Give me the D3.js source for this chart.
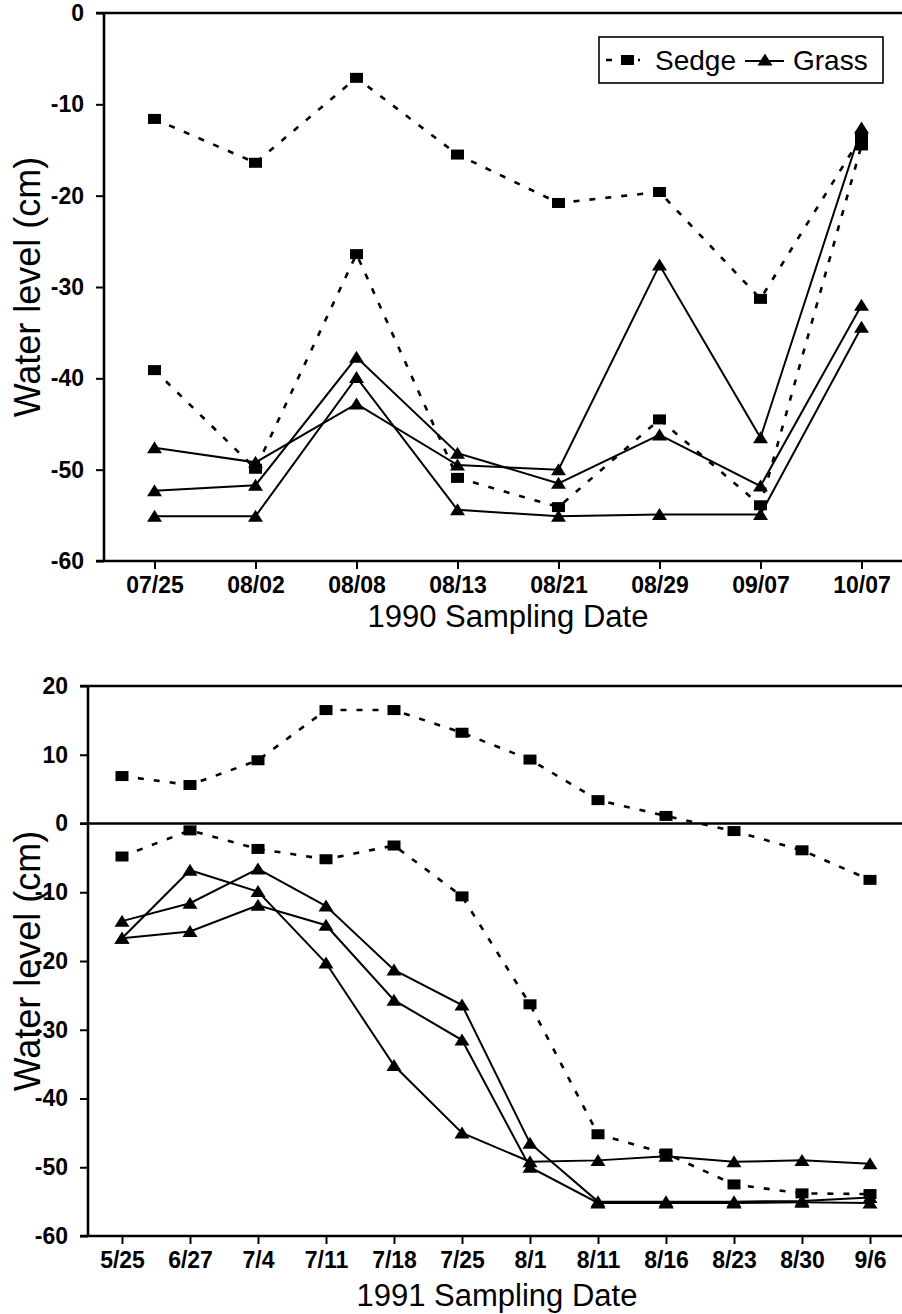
<!DOCTYPE html>
<html>
<head>
<meta charset="utf-8">
<script src="https://cdn.jsdelivr.net/npm/d3@7/dist/d3.min.js"></script>
<style>
	body { margin: 0; background: #fff; }
	svg { display: block; font-family: "Liberation Sans", Arial, sans-serif; }
	.tick text { font-size: 23px; font-weight: bold; fill: #000; }
	.axistitle { font-size: 31px; fill: #000; }
	.ytitle { font-size: 36px; fill: #000; }
	.sedge { fill: none; stroke: #000; stroke-width: 2.6; stroke-dasharray: 6,10; }
	.grass { fill: none; stroke: #000; stroke-width: 2; }
	.frame { stroke: #000; stroke-width: 2.6; }
</style>
</head>
<body>
<svg id="chart" width="902" height="1314"></svg>
<script>
// 1990 sampling
var dates90 = ["07/25", "08/02", "08/08", "08/13", "08/21", "08/29", "09/07", "10/07"];
var sedge90a = [-11.6, -16.4, -7.1, -15.5, -20.8, -19.6, -31.3, -13.5];
var sedge90b = [-39.1, -49.9, -26.4, -50.9, -54.1, -44.5, -53.9, -14.5];
var grass90a = [-47.6, -49.2, -42.8, -49.5, -50.0, -27.6, -46.5, -12.6];
var grass90b = [-52.3, -51.7, -37.7, -48.2, -51.5, -46.2, -51.8, -32.0];
var grass90c = [-55.1, -55.1, -39.9, -54.4, -55.1, -54.9, -54.9, -34.4];
var yTicks90 = [0, -10, -20, -30, -40, -50, -60];

// 1991 sampling
var dates91 = ["5/25", "6/27", "7/4", "7/11", "7/18", "7/25", "8/1", "8/11", "8/16", "8/23", "8/30", "9/6"];
var sedge91a = [6.9, 5.6, 9.2, 16.5, 16.5, 13.2, 9.3, 3.4, 1.1, -1.1, -3.9, -8.2];
var sedge91b = [-4.8, -1.0, -3.7, -5.2, -3.2, -10.6, -26.3, -45.2, -48.0, -52.5, -53.8, -53.9];
var grass91a = [-14.2, -11.6, -6.6, -12.0, -21.3, -26.4, -46.5, -55.0, -55.0, -55.0, -54.9, -54.4];
var grass91b = [-16.7, -6.8, -9.9, -20.3, -35.2, -45.0, -49.2, -49.0, -48.4, -49.2, -49.0, -49.5];
var grass91c = [-16.7, -15.7, -11.9, -14.8, -25.7, -31.5, -50.0, -55.2, -55.2, -55.2, -55.1, -55.2];
var yTicks91 = [20, 10, 0, -10, -20, -30, -40, -50, -60];

var svg = d3.select("#chart");

// triangle marker, a bit wider than tall like the original
var triPath = "M0,-6.5L7.5,5.5L-7.5,5.5Z";

function drawPanel(opt) {
	var g = svg.append("g");

	var x = d3.scalePoint()
		.domain(opt.dates)
		.range([opt.left, opt.right])
		.padding(0.5);

	var y = d3.scaleLinear()
		.domain([opt.ymin, opt.ymax])
		.range([opt.bottom, opt.top]);

	// y axis (plain hyphen for negatives, like the original)
	var yAxis = d3.axisLeft(y)
		.tickValues(opt.yTicks)
		.tickFormat(function(d) { return String(d); })
		.tickSize(8)
		.tickSizeOuter(0)
		.tickPadding(12);
	g.append("g")
		.attr("class", "y axis")
		.attr("transform", "translate(" + opt.left + ",0)")
		.call(yAxis);

	// x axis
	var xAxis = d3.axisBottom(x)
		.tickSize(8)
		.tickSizeOuter(0)
		.tickPadding(8);
	g.append("g")
		.attr("class", "x axis")
		.attr("transform", "translate(0," + opt.bottom + ")")
		.call(xAxis);

	g.selectAll(".axis .domain").remove();
	g.selectAll(".axis line").attr("stroke", "#000").attr("stroke-width", 2);

	// frame lines
	g.append("line").attr("class", "frame")
		.attr("x1", opt.left).attr("x2", opt.left)
		.attr("y1", y(opt.ymax)).attr("y2", y(opt.ymin));
	opt.hLines.forEach(function(v) {
		g.append("line").attr("class", "frame")
			.attr("x1", opt.left - 8).attr("x2", 902)
			.attr("y1", y(v)).attr("y2", y(v));
	});

	// titles
	g.append("text")
		.attr("class", "axistitle")
		.attr("x", opt.xTitleX)
		.attr("y", opt.xTitleY)
		.attr("text-anchor", "middle")
		.text(opt.xTitle);

	g.append("text")
		.attr("class", "ytitle")
		.attr("transform", "rotate(-90)")
		.attr("x", 0 - (opt.top + opt.bottom) / 2)
		.attr("y", 40)
		.attr("text-anchor", "middle")
		.text("Water level (cm)");

	var line = d3.line()
		.x(function(d, i) { return x(opt.dates[i]); })
		.y(function(d) { return y(d); });

	// sedge dashed lines, grass solid lines
	opt.sedge.forEach(function(s) {
		g.append("path")
			.datum(s)
			.attr("class", "sedge")
			.attr("d", line);
	});
	opt.grass.forEach(function(s) {
		g.append("path")
			.datum(s)
			.attr("class", "grass")
			.attr("d", line);
	});

	// markers
	opt.sedge.forEach(function(s) {
		g.selectAll(null)
			.data(s)
		  .enter().append("rect")
			.attr("x", function(d, i) { return x(opt.dates[i]) - 6.5; })
			.attr("y", function(d) { return y(d) - 5; })
			.attr("width", 13)
			.attr("height", 10)
			.attr("fill", "#000");
	});
	opt.grass.forEach(function(s) {
		g.selectAll(null)
			.data(s)
		  .enter().append("path")
			.attr("d", triPath)
			.attr("transform", function(d, i) { return "translate(" + x(opt.dates[i]) + "," + y(d) + ")"; })
			.attr("fill", "#000");
	});

	return g;
}

var topPanel = drawPanel({
	dates: dates90, yTicks: yTicks90, ymin: -60, ymax: 0,
	left: 104, right: 912, top: 13, bottom: 561,
	hLines: [0, -60],
	sedge: [sedge90a, sedge90b],
	grass: [grass90a, grass90b, grass90c],
	xTitle: "1990 Sampling Date", xTitleX: 508, xTitleY: 627
});

drawPanel({
	dates: dates91, yTicks: yTicks91, ymin: -60, ymax: 20,
	left: 88, right: 904, top: 686, bottom: 1236,
	hLines: [20, 0, -60],
	sedge: [sedge91a, sedge91b],
	grass: [grass91a, grass91b, grass91c],
	xTitle: "1991 Sampling Date", xTitleX: 497, xTitleY: 1306
});

// legend (top panel)
var legend = topPanel.append("g");
legend.append("rect")
	.attr("x", 599).attr("y", 37)
	.attr("width", 284).attr("height", 46)
	.attr("fill", "#fff")
	.attr("stroke", "#000")
	.attr("stroke-width", 1.6);
legend.append("line")
	.attr("class", "sedge")
	.attr("x1", 606).attr("x2", 640)
	.attr("y1", 60).attr("y2", 60);
legend.append("rect")
	.attr("x", 621).attr("y", 55)
	.attr("width", 13).attr("height", 10)
	.attr("fill", "#000");
legend.append("text")
	.attr("x", 655).attr("y", 70)
	.style("font-size", "28px")
	.text("Sedge");
legend.append("line")
	.attr("class", "grass")
	.attr("x1", 745).attr("x2", 784)
	.attr("y1", 61).attr("y2", 61);
legend.append("path")
	.attr("d", triPath)
	.attr("transform", "translate(765,60)")
	.attr("fill", "#000");
legend.append("text")
	.attr("x", 793).attr("y", 70)
	.style("font-size", "28px")
	.text("Grass");
</script>
</body>
</html>
